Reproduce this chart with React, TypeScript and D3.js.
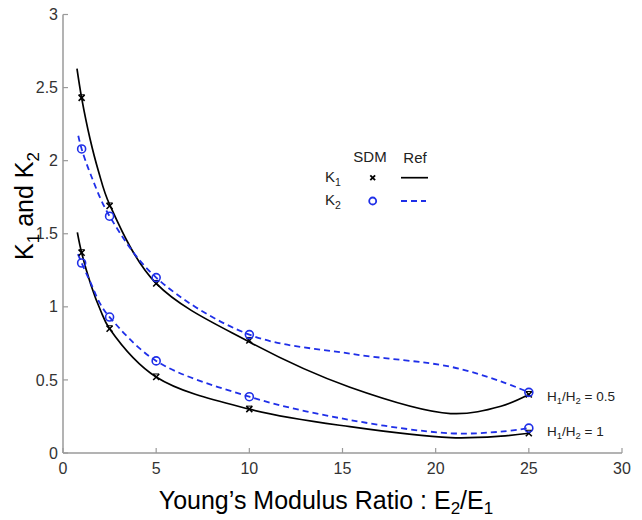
import React from "react";
import * as d3 from "d3";

// SDM sample x positions
const sdmX = [1, 2.5, 5, 10, 25];
// H1/H2 = 0.5
const k1SdmHalf = [2.43, 1.69, 1.16, 0.77, 0.4];
const k2SdmHalf = [2.08, 1.62, 1.2, 0.81, 0.415];
// H1/H2 = 1
const k1SdmOne = [1.37, 0.85, 0.52, 0.3, 0.135];
const k2SdmOne = [1.3, 0.93, 0.63, 0.385, 0.17];

// Reference curves
const k1RefHalfX = [0.75, 1, 1.45, 1.9, 2.5, 5, 10, 15.4, 20.8, 23.5, 25];
const k1RefHalfY = [2.63, 2.43, 2.15, 1.93, 1.7, 1.16, 0.76, 0.45, 0.27, 0.32, 0.4];
const k2RefHalfX = [0.82, 1, 1.5, 2.5, 5, 10, 15.4, 20.8, 23.5, 25];
const k2RefHalfY = [2.17, 2.08, 1.9, 1.62, 1.2, 0.81, 0.68, 0.59, 0.49, 0.415];
const k1RefOneX = [0.77, 1, 1.5, 2, 2.5, 5, 10, 15.4, 20.8, 23.5, 25];
const k1RefOneY = [1.51, 1.37, 1.15, 0.98, 0.85, 0.52, 0.3, 0.18, 0.105, 0.115, 0.135];
const k2RefOneX = [0.8, 1, 1.5, 2, 2.5, 5, 10, 15.4, 20.8, 23.5, 25];
const k2RefOneY = [1.36, 1.3, 1.16, 1.02, 0.93, 0.63, 0.385, 0.226, 0.135, 0.146, 0.17];

const xTicks = [0, 5, 10, 15, 20, 25, 30];
const yTicks = [0, 0.5, 1, 1.5, 2, 2.5, 3];
const yTickLabels = ["0", "0.5", "1", "1.5", "2", "2.5", "3"];

const FONT = "'Liberation Sans', Arial, Helvetica, sans-serif";
const BLUE = "#1f2fe8";
const AXIS = "#9a9a9a";

export default function App() {
  const x = d3.scaleLinear().domain([0, 30]).range([63, 622]);
  const y = d3.scaleLinear().domain([0, 3]).range([453, 14.5]);

  const line = d3
    .line<[number, number]>()
    .x((d) => x(d[0]))
    .y((d) => y(d[1]))
    .curve(d3.curveCatmullRom.alpha(0.5));

  const zip = (xs: number[], ys: number[]) => xs.map((v, i) => [v, ys[i]] as [number, number]);

  const crosses = (ys: number[], key: string) =>
    sdmX.map((v, i) => {
      const cx = x(v);
      const cy = y(ys[i]);
      const s = 3;
      return (
        <g key={key + i} stroke="#000" strokeWidth={1.6}>
          <line x1={cx - s} y1={cy - s} x2={cx + s} y2={cy + s} />
          <line x1={cx - s} y1={cy + s} x2={cx + s} y2={cy - s} />
          <line x1={cx - s} y1={cy - s} x2={cx + s} y2={cy - s} strokeWidth={1} />
        </g>
      );
    });

  const circles = (ys: number[], key: string) =>
    sdmX.map((v, i) => (
      <circle key={key + i} cx={x(v)} cy={y(ys[i])} r={4} fill="none" stroke={BLUE} strokeWidth={1.6} />
    ));

  return (
    <svg
      width={642}
      height={520}
      style={{ position: "absolute", left: 0, top: 0, background: "#fff" }}
      fontFamily={FONT}
    >
      <rect x={0} y={0} width={642} height={520} fill="#fff" />
      {/* axes */}
      <line x1={x(0)} y1={y(0)} x2={x(30)} y2={y(0)} stroke={AXIS} strokeWidth={1.5} />
      <line x1={x(0)} y1={y(0)} x2={x(0)} y2={y(3)} stroke={AXIS} strokeWidth={1.5} />
      {xTicks.map((t) => (
        <g key={"xt" + t}>
          <line x1={x(t)} x2={x(t)} y1={y(0)} y2={y(0) - 5} stroke={AXIS} strokeWidth={1.2} />
          <text x={x(t)} y={y(0) + 21} textAnchor="middle" fontSize={16} fill="#333">
            {t}
          </text>
        </g>
      ))}
      {yTicks.map((t, i) => (
        <g key={"yt" + t}>
          <line x1={x(0)} x2={x(0) + 5} y1={y(t)} y2={y(t)} stroke={AXIS} strokeWidth={1.2} />
          <text
            x={x(0) - 5}
            y={y(t)}
            dy="0.35em"
            textAnchor="end"
            fontSize={16}
            fill="#333"
          >
            {yTickLabels[i]}
          </text>
        </g>
      ))}

      {/* reference curves */}
      <path d={line(zip(k1RefHalfX, k1RefHalfY)) || ""} fill="none" stroke="#000" strokeWidth={1.7} />
      <path d={line(zip(k1RefOneX, k1RefOneY)) || ""} fill="none" stroke="#000" strokeWidth={1.7} />
      <path
        d={line(zip(k2RefHalfX, k2RefHalfY)) || ""}
        fill="none"
        stroke={BLUE}
        strokeWidth={1.8}
        strokeDasharray="6,4"
      />
      <path
        d={line(zip(k2RefOneX, k2RefOneY)) || ""}
        fill="none"
        stroke={BLUE}
        strokeWidth={1.8}
        strokeDasharray="6,4"
      />

      {/* SDM markers */}
      {crosses(k1SdmHalf, "a")}
      {crosses(k1SdmOne, "b")}
      {circles(k2SdmHalf, "c")}
      {circles(k2SdmOne, "d")}

      {/* curve labels */}
      <text x={547} y={401} fontSize={13.5} fill="#222">
        H<tspan fontSize={9.5} dy={3}>1</tspan>
        <tspan dy={-3}>/H</tspan>
        <tspan fontSize={9.5} dy={3}>2</tspan>
        <tspan dy={-3}> = 0.5</tspan>
      </text>
      <text x={547} y={436} fontSize={13.5} fill="#222">
        H<tspan fontSize={9.5} dy={3}>1</tspan>
        <tspan dy={-3}>/H</tspan>
        <tspan fontSize={9.5} dy={3}>2</tspan>
        <tspan dy={-3}> = 1</tspan>
      </text>

      {/* legend */}
      <text x={370} y={162} fontSize={15} textAnchor="middle" fill="#222">SDM</text>
      <text x={415} y={163} fontSize={15} textAnchor="middle" fill="#222">Ref</text>
      <text x={325} y={182} fontSize={15} fill="#222">
        K<tspan fontSize={10.5} dy={4}>1</tspan>
      </text>
      <text x={325} y={205} fontSize={15} fill="#222">
        K<tspan fontSize={10.5} dy={4}>2</tspan>
      </text>
      <g stroke="#000" strokeWidth={1.8}>
        <line x1={370.3} y1={175.3} x2={375.1} y2={180.1} />
        <line x1={370.3} y1={180.1} x2={375.1} y2={175.3} />
      </g>
      <circle cx={372.7} cy={201} r={3.5} fill="none" stroke={BLUE} strokeWidth={1.8} />
      <line x1={401} x2={428} y1={177.7} y2={177.7} stroke="#000" strokeWidth={1.7} />
      <line x1={401} x2={426} y1={201} y2={201} stroke={BLUE} strokeWidth={1.8} strokeDasharray="6,4" />

      {/* axis titles */}
      <text
        transform="translate(33,206) rotate(-90)"
        textAnchor="middle"
        fontSize={25}
        fill="#000"
      >
        K<tspan fontSize={17} dy={6}>1</tspan>
        <tspan dy={-6}> and K</tspan>
        <tspan fontSize={17} dy={6}>2</tspan>
      </text>
      <text x={326} y={509} textAnchor="middle" fontSize={25} fill="#000">
        Young’s Modulus Ratio : E<tspan fontSize={17} dy={5}>2</tspan>
        <tspan dy={-5}>/E</tspan>
        <tspan fontSize={17} dy={5}>1</tspan>
      </text>
    </svg>
  );
}
